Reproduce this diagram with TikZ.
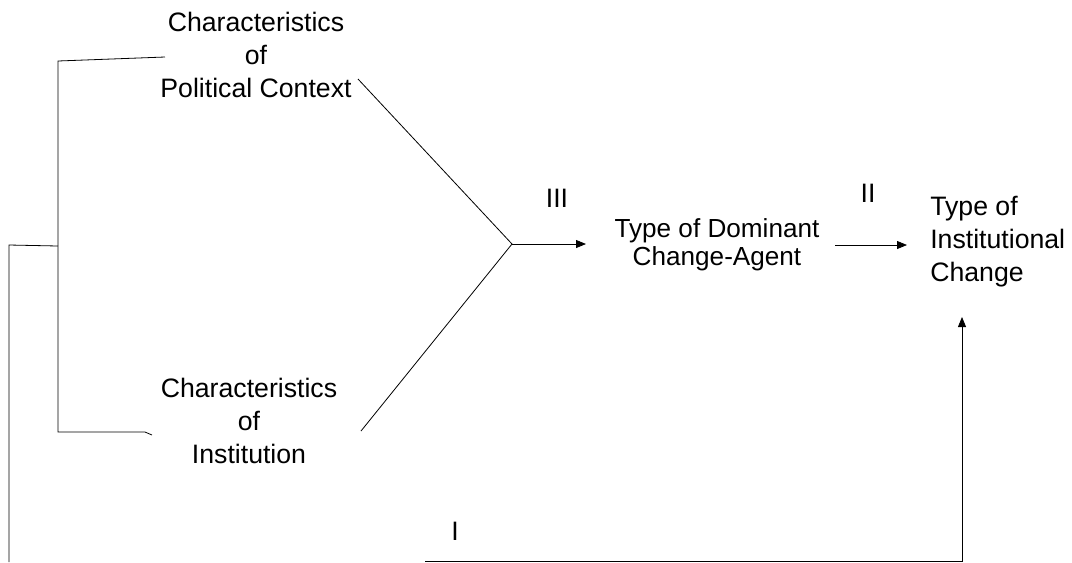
\documentclass[tikz,border=0pt]{standalone}
\usepackage{fontspec}
\setmainfont{Liberation Sans}
\usetikzlibrary{arrows.meta}
\newcommand{\wtext}[2][c]{\begin{tabular}[t]{@{}#1@{}}#2\end{tabular}}
\begin{document}
\begin{tikzpicture}[x=0.75pt,y=-0.75pt,
  conn/.style={draw=black,line width=0.6pt},
  arr/.style={conn,-{Triangle[length=7.5pt,width=6pt]}},
  lab/.style={inner sep=0pt,anchor=base,font=\fontsize{20pt}{24.75pt}\selectfont},
  tightlab/.style={inner sep=0pt,anchor=base,font=\fontsize{19.6pt}{21pt}\selectfont}]
\useasboundingbox (0,0) rectangle (1072,562);
% text nodes
\node[lab] (pol) at (256,31) {\wtext{Characteristics\\of\\Political Context}};
\node[lab] (inst) at (249,397) {\wtext{Characteristics\\of\\Institution}};
\node[tightlab] (dom) at (717,237) {\wtext{Type of Dominant\\Change-Agent}};
\node[lab,anchor=base west] (ich) at (930,215) {\wtext[l]{Type of\\Institutional\\Change}};
\node[lab] (l3) at (557,207) {III};
\node[lab] (l2) at (868,202) {II};
\node[lab] (l1) at (455,540) {I};
% coordinates
\coordinate (j) at (512,244);
\coordinate (polend) at (358,79);
\coordinate (instend) at (361,431);
\coordinate (btop) at (58,61);
\coordinate (btopR) at (165,57);
\coordinate (bbot) at (58,432);
\coordinate (bbotR) at (145,432);
\coordinate (bbotT) at (152,435);
\coordinate (bmid) at (58,246);
\coordinate (lmid) at (9,245);
\coordinate (lbot) at (9,562);
\coordinate (bstart) at (425,561);
\coordinate (corner) at (962,561);
\coordinate (tip) at (962,317);
\coordinate (a3s) at (512,244);
\coordinate (a3e) at (586,244);
\coordinate (a2s) at (835,245);
\coordinate (a2e) at (907,245);
% connectors
\draw[conn] (polend) -- (j) -- (instend);
\draw[arr] (a3s) -- (a3e);
\draw[arr] (a2s) -- (a2e);
\draw[conn] (btopR) -- (btop) -- (bbot) -- (bbotR) -- (bbotT);
\draw[conn] (bmid) -- (lmid) -- (lbot);
\draw[arr] (bstart) -- (corner) -- (tip);
\end{tikzpicture}
\end{document}
